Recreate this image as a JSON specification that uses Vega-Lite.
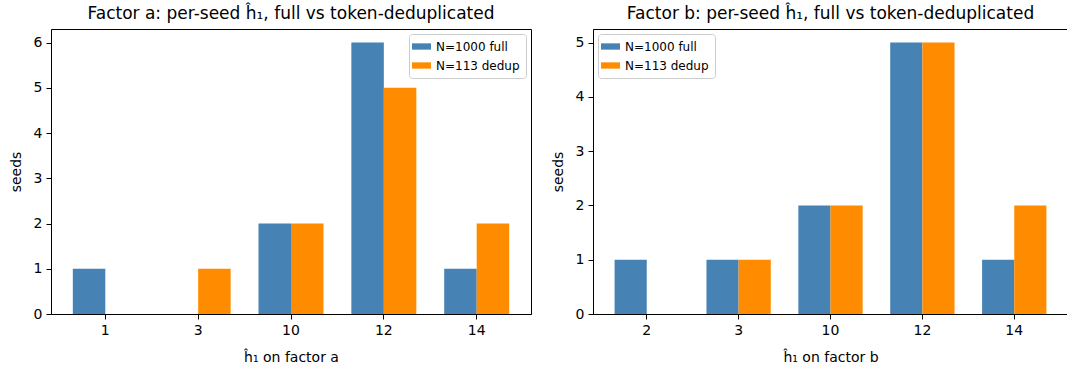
{
  "$schema": "https://vega.github.io/schema/vega-lite/v6.json",
  "padding": {"left": 8, "top": 4, "right": 2, "bottom": 3},
  "background": "white",
  "data": {"values": [
    {"factor": "a", "h": "1", "series": "N=1000 full", "seeds": 1},
    {"factor": "a", "h": "1", "series": "N=113 dedup", "seeds": 0},
    {"factor": "a", "h": "3", "series": "N=1000 full", "seeds": 0},
    {"factor": "a", "h": "3", "series": "N=113 dedup", "seeds": 1},
    {"factor": "a", "h": "10", "series": "N=1000 full", "seeds": 2},
    {"factor": "a", "h": "10", "series": "N=113 dedup", "seeds": 2},
    {"factor": "a", "h": "12", "series": "N=1000 full", "seeds": 6},
    {"factor": "a", "h": "12", "series": "N=113 dedup", "seeds": 5},
    {"factor": "a", "h": "14", "series": "N=1000 full", "seeds": 1},
    {"factor": "a", "h": "14", "series": "N=113 dedup", "seeds": 2},
    {"factor": "b", "h": "2", "series": "N=1000 full", "seeds": 1},
    {"factor": "b", "h": "2", "series": "N=113 dedup", "seeds": 0},
    {"factor": "b", "h": "3", "series": "N=1000 full", "seeds": 1},
    {"factor": "b", "h": "3", "series": "N=113 dedup", "seeds": 1},
    {"factor": "b", "h": "10", "series": "N=1000 full", "seeds": 2},
    {"factor": "b", "h": "10", "series": "N=113 dedup", "seeds": 2},
    {"factor": "b", "h": "12", "series": "N=1000 full", "seeds": 5},
    {"factor": "b", "h": "12", "series": "N=113 dedup", "seeds": 5},
    {"factor": "b", "h": "14", "series": "N=1000 full", "seeds": 1},
    {"factor": "b", "h": "14", "series": "N=113 dedup", "seeds": 2}
  ]},
  "spacing": 18,
  "hconcat": [
    {
      "title": "Factor a: per-seed ĥ₁, full vs token-deduplicated",
      "width": 480,
      "height": 285,
      "transform": [{"filter": "datum.factor == 'a'"}],
      "mark": {"type": "bar"},
      "encoding": {
        "x": {"field": "h", "type": "ordinal", "sort": ["1", "3", "10", "12", "14"],
              "scale": {"paddingInner": 0.3, "paddingOuter": 0.235},
              "axis": {"title": "ĥ₁ on factor a", "labelAngle": 0}},
        "xOffset": {"field": "series", "type": "nominal", "sort": ["N=1000 full", "N=113 dedup"],
                    "scale": {"paddingInner": 0, "paddingOuter": 0}},
        "y": {"field": "seeds", "type": "quantitative", "scale": {"domain": [0, 6.3], "nice": false},
              "axis": {"title": "seeds", "values": [0, 1, 2, 3, 4, 5, 6]}},
        "color": {"field": "series", "type": "nominal",
                  "scale": {"domain": ["N=1000 full", "N=113 dedup"], "range": ["#4682b4", "#ff8c00"]},
                  "legend": {"orient": "top-right", "title": null, "offset": 5}}
      }
    },
    {
      "title": "Factor b: per-seed ĥ₁, full vs token-deduplicated",
      "width": 475,
      "height": 285,
      "transform": [{"filter": "datum.factor == 'b'"}],
      "mark": {"type": "bar"},
      "encoding": {
        "x": {"field": "h", "type": "ordinal", "sort": ["2", "3", "10", "12", "14"],
              "scale": {"paddingInner": 0.3, "paddingOuter": 0.235},
              "axis": {"title": "ĥ₁ on factor b", "labelAngle": 0}},
        "xOffset": {"field": "series", "type": "nominal", "sort": ["N=1000 full", "N=113 dedup"],
                    "scale": {"paddingInner": 0, "paddingOuter": 0}},
        "y": {"field": "seeds", "type": "quantitative", "scale": {"domain": [0, 5.25], "nice": false},
              "axis": {"title": "seeds", "values": [0, 1, 2, 3, 4, 5]}},
        "color": {"field": "series", "type": "nominal",
                  "scale": {"domain": ["N=1000 full", "N=113 dedup"], "range": ["#4682b4", "#ff8c00"]},
                  "legend": {"orient": "top-left", "title": null, "offset": 5}}
      }
    }
  ],
  "resolve": {"scale": {"x": "independent", "y": "independent", "xOffset": "independent"}, "legend": {"color": "independent"}},
  "config": {
    "font": "DejaVu Sans",
    "view": {"stroke": "black", "strokeWidth": 1},
    "title": {"fontSize": 17, "fontWeight": "normal", "color": "black", "offset": 6},
    "axis": {
      "grid": false,
      "domainColor": "black",
      "tickColor": "black",
      "tickSize": 5,
      "labelFontSize": 14,
      "labelColor": "black",
      "titleFontSize": 14,
      "titleFontWeight": "normal",
      "titleColor": "black",
      "labelPadding": 4,
      "titlePadding": 10
    },
    "axisX": {"titlePadding": 13},
    "legend": {
      "labelFontSize": 12,
      "labelColor": "black",
      "fillColor": "white",
      "strokeColor": "#cccccc",
      "cornerRadius": 3,
      "padding": 6,
      "symbolType": "M-1.5,-0.5H1.5V0.5H-1.5Z",
      "symbolSize": 160,
      "symbolStrokeWidth": 0,
      "rowPadding": 6,
      "labelOffset": 8
    }
  }
}
